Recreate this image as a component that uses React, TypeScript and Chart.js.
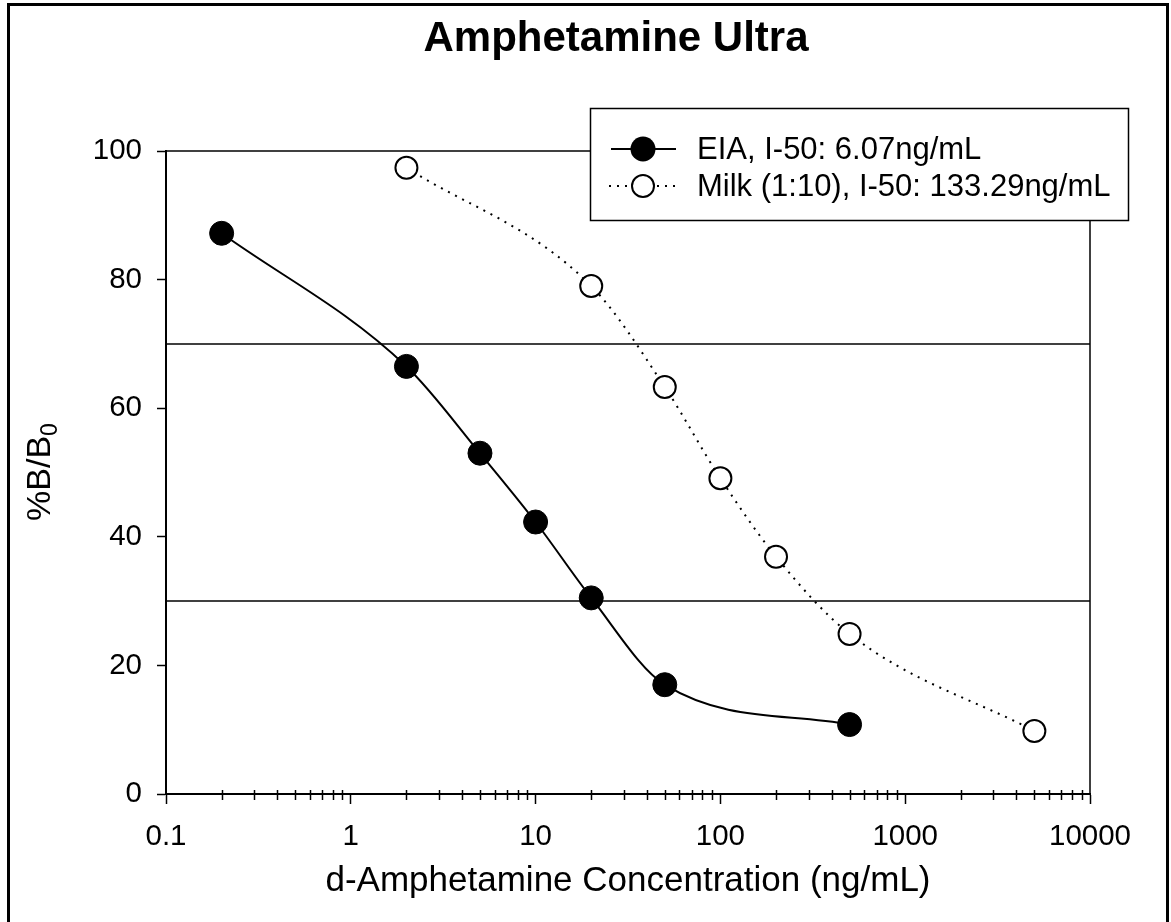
import React, { useEffect, useRef } from "react";
import { Chart, registerables } from "chart.js";
Chart.register(...registerables);

const eiaConc = [0.2, 2, 5, 10, 20, 50, 500];
const eiaB = [87.2, 66.5, 53.0, 42.3, 30.5, 17.0, 10.8];
const milkConc = [2, 20, 50, 100, 200, 500, 5000];
const milkB = [97.4, 79.0, 63.3, 49.1, 36.9, 24.9, 9.8];
const xMajorTicks = [0.1, 1, 10, 100, 1000, 10000];
const xTickLabels = ["0.1", "1", "10", "100", "1000", "10000"];
const yTicks = [0, 20, 40, 60, 80, 100];
const refLevels = [70, 30];
const seriesLabels = ["EIA, I-50: 6.07ng/mL", "Milk (1:10), I-50: 133.29ng/mL"];
const titleText = "Amphetamine Ultra";
const xTitle = "d-Amphetamine Concentration (ng/mL)";
const yTitleMain = "%B/B";
const yTitleSub = "0";

const FONT = "'Liberation Sans', Arial, Helvetica, sans-serif";

const minorTicks: number[] = [];
for (let i = 0; i < xMajorTicks.length - 1; i++) {
  for (let k = 2; k <= 9; k++) minorTicks.push(xMajorTicks[i] * k);
}

const decorPlugin = {
  id: "decor",
  afterDraw(chart: any) {
    const { ctx, scales } = chart;
    const x = scales.x;
    const y = scales.y;
    ctx.save();
    // minor ticks crossing the x axis
    ctx.strokeStyle = "#000";
    ctx.lineWidth = 1.5;
    const y0 = y.getPixelForValue(0);
    minorTicks.forEach((v) => {
      const px = Math.round(x.getPixelForValue(v)) + 0.5;
      ctx.beginPath();
      ctx.moveTo(px, y0 - 4);
      ctx.lineTo(px, y0 + 6);
      ctx.stroke();
    });

    // title
    ctx.fillStyle = "#000";
    ctx.font = `bold 42px ${FONT}`;
    ctx.textAlign = "center";
    ctx.textBaseline = "middle";
    ctx.fillText(titleText, 616, 39);

    // y title with subscript
    ctx.save();
    ctx.translate(50, 472);
    ctx.rotate(-Math.PI / 2);
    ctx.font = `34px ${FONT}`;
    const wMain = ctx.measureText(yTitleMain).width;
    ctx.font = `23px ${FONT}`;
    const wSub = ctx.measureText(yTitleSub).width;
    const start = -(wMain + wSub) / 2;
    ctx.textAlign = "left";
    ctx.textBaseline = "alphabetic";
    ctx.font = `34px ${FONT}`;
    ctx.fillText(yTitleMain, start, 0);
    ctx.font = `23px ${FONT}`;
    ctx.fillText(yTitleSub, start + wMain, 7);
    ctx.restore();

    // legend
    const bx = 590, by = 108, bw = 538, bh = 112;
    ctx.fillStyle = "#fff";
    ctx.fillRect(bx, by, bw, bh);
    ctx.strokeStyle = "#000";
    ctx.lineWidth = 1.5;
    ctx.strokeRect(bx + 0.5, by + 0.5, bw, bh);

    const rows = [149, 186];
    const mx = 643;
    // row 1
    ctx.lineWidth = 2;
    ctx.setLineDash([]);
    ctx.beginPath();
    ctx.moveTo(611, rows[0]);
    ctx.lineTo(676, rows[0]);
    ctx.stroke();
    ctx.beginPath();
    ctx.arc(mx, rows[0], 12.5, 0, Math.PI * 2);
    ctx.fillStyle = "#000";
    ctx.fill();
    // row 2
    ctx.setLineDash([2, 6]);
    ctx.beginPath();
    ctx.moveTo(609, rows[1]);
    ctx.lineTo(680, rows[1]);
    ctx.stroke();
    ctx.setLineDash([]);
    ctx.beginPath();
    ctx.arc(mx, rows[1], 11, 0, Math.PI * 2);
    ctx.fillStyle = "#fff";
    ctx.fill();
    ctx.stroke();

    ctx.fillStyle = "#000";
    ctx.font = `31px ${FONT}`;
    ctx.textAlign = "left";
    ctx.textBaseline = "middle";
    ctx.fillText(seriesLabels[0], 697, rows[0] + 1);
    ctx.fillText(seriesLabels[1], 697, rows[1] + 1);
    ctx.restore();
  },
};

export default function App() {
  const ref = useRef<HTMLCanvasElement | null>(null);
  useEffect(() => {
    if (!ref.current) return;
    Chart.defaults.font.family = FONT;
    Chart.defaults.color = "#000";
    const refLine = (pts: { x: number; y: number }[]) => ({
      label: "ref",
      data: pts,
      borderColor: "#000",
      borderWidth: 1.5,
      pointRadius: 0,
      fill: false,
      tension: 0,
      clip: false as any,
    });
    const chart = new Chart(ref.current, {
      type: "line",
      data: {
        datasets: [
          {
            label: seriesLabels[0],
            data: eiaConc.map((c, i) => ({ x: c, y: eiaB[i] })),
            borderColor: "#000",
            borderWidth: 2,
            pointRadius: 12,
            pointBackgroundColor: "#000",
            pointBorderColor: "#000",
            pointBorderWidth: 1,
            cubicInterpolationMode: "monotone",
            fill: false,
            clip: false as any,
          },
          {
            label: seriesLabels[1],
            data: milkConc.map((c, i) => ({ x: c, y: milkB[i] })),
            borderColor: "#000",
            borderWidth: 2,
            borderDash: [2, 6],
            pointRadius: 11,
            pointBackgroundColor: "#fff",
            pointBorderColor: "#000",
            pointBorderWidth: 2,
            cubicInterpolationMode: "monotone",
            fill: false,
            clip: false as any,
          },
          ...refLevels.map((lv) =>
            refLine([
              { x: xMajorTicks[0], y: lv },
              { x: xMajorTicks[xMajorTicks.length - 1], y: lv },
            ])
          ),
          refLine([
            { x: xMajorTicks[0], y: yTicks[yTicks.length - 1] },
            { x: xMajorTicks[xMajorTicks.length - 1], y: yTicks[yTicks.length - 1] },
          ]),
          refLine([
            { x: xMajorTicks[xMajorTicks.length - 1], y: yTicks[0] },
            { x: xMajorTicks[xMajorTicks.length - 1], y: yTicks[yTicks.length - 1] },
          ]),
        ],
      },
      options: {
        responsive: false,
        animation: false,
        devicePixelRatio: 1,
        layout: { padding: { top: 151, right: 81, left: 0, bottom: 0 } },
        plugins: {
          legend: { display: false },
          title: { display: false },
          tooltip: { enabled: false },
        },
        scales: {
          x: {
            type: "logarithmic",
            min: 0.1,
            max: 10000,
            afterBuildTicks: (s: any) => {
              s.ticks = xMajorTicks.map((v) => ({ value: v }));
            },
            afterFit: (s: any) => {
              s.height = 128;
            },
            ticks: {
              autoSkip: false,
              maxRotation: 0,
              padding: 15,
              font: { size: 29.5 },
              color: "#000",
              callback: (_v: any, i: number) => xTickLabels[i],
            },
            grid: {
              display: true,
              drawOnChartArea: false,
              drawTicks: true,
              tickLength: 10,
              tickColor: "#000",
              tickWidth: 1.5,
              color: "#000",
            },
            border: { display: true, color: "#000", width: 2 },
            title: {
              display: true,
              text: xTitle,
              font: { size: 35 },
              color: "#000",
              padding: { top: 0, bottom: 20 },
            },
          },
          y: {
            type: "linear",
            min: 0,
            max: 100,
            afterBuildTicks: (s: any) => {
              s.ticks = yTicks.map((v) => ({ value: v }));
            },
            afterFit: (s: any) => {
              s.width = 166;
            },
            ticks: {
              padding: 15,
              font: { size: 29.5 },
              color: "#000",
              callback: (v: any) => String(v),
            },
            grid: {
              display: true,
              drawOnChartArea: false,
              drawTicks: true,
              tickLength: 9,
              tickColor: "#000",
              tickWidth: 1.5,
              color: "#000",
            },
            border: { display: true, color: "#000", width: 2 },
          },
        },
      },
      plugins: [decorPlugin],
    });
    return () => chart.destroy();
  }, []);

  return (
    <div
      style={{
        position: "fixed",
        left: 0,
        top: 0,
        width: 1171,
        height: 922,
        overflow: "hidden",
        background: "#fff",
      }}
    >
      <canvas ref={ref} width={1171} height={922} style={{ position: "absolute", left: 0, top: 0 }} />
      <div
        style={{
          position: "absolute",
          left: 7,
          top: 3,
          width: 1156,
          height: 1000,
          borderLeft: "3px solid #000",
          borderTop: "3px solid #000",
          borderRight: "3px solid #000",
          pointerEvents: "none",
        }}
      />
    </div>
  );
}
